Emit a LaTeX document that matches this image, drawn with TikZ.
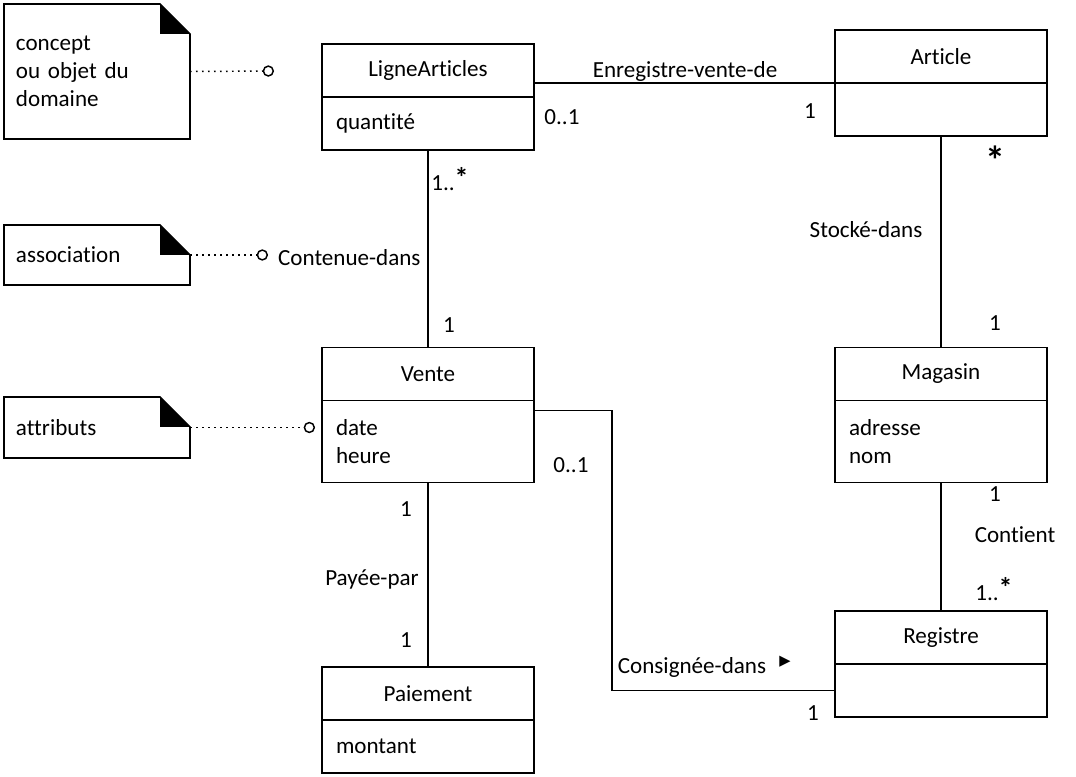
\documentclass[tikz,border=0pt]{standalone}
\usepackage{fontspec}
\setmainfont{Carlito}[Ligatures=NoCommon]
\newfontfamily\symfont{DejaVu Sans}
\usetikzlibrary{arrows.meta, positioning}

\begin{document}
\begin{tikzpicture}[
    x=0.75pt, y=-0.75pt,
    font=\fontsize{17.3pt}{21pt}\selectfont,
    every node/.style={outer sep=0pt},
    cls/.style={draw, line width=1.2pt, minimum width=159pt, minimum height=39.75pt, inner sep=0pt},
    attr/.style={cls, text width=138pt, inner xsep=10.5pt, align=left},
    note/.style={minimum width=139.5pt, text width=121.5pt, inner xsep=9pt, align=left},
    link/.style={line width=1.2pt},
    notelink/.style={line width=1.1pt, dash pattern=on 1.3pt off 3.2pt, -{Circle[open, length=8.5pt, width=8.5pt, line width=1.1pt, sep=0pt]}},
    mult/.style={inner sep=0pt}
]
\useasboundingbox (0,0) rectangle (1076,777);

% Classes
\node[cls] (ligne) at (428,70.5) {LigneArticles};
\node[attr, minimum height=39.75pt, below=0pt of ligne] (ligneattr) {quantité};
\node[cls] (article) at (941,56.5) {Article};
\node[attr, minimum height=39.75pt, below=0pt of article] (articleattr) {};
\node[cls] (vente) at (428,374) {Vente};
\node[attr, minimum height=61.5pt, below=0pt of vente] (venteattr) {date\\heure};
\node[cls] (magasin) at (941,374) {Magasin};
\node[attr, minimum height=61.5pt, below=0pt of magasin] (magasinattr) {adresse\\nom};
\node[cls] (paiement) at (428,693.5) {Paiement};
\node[attr, minimum height=39.75pt, below=0pt of paiement] (paiementattr) {montant};
\node[cls] (registre) at (941,637.5) {Registre};
\node[attr, minimum height=39.75pt, below=0pt of registre] (registreattr) {};

% Notes
\node[note, minimum height=101.25pt] (noteconcept) at (97,71.5) {concept\\ou objet du\\domaine};
\node[note, minimum height=45pt] (noteassoc) at (97,255) {association};
\node[note, minimum height=45.75pt] (noteattr) at (97,427.5) {attributs};
\foreach \n in {noteconcept,noteassoc,noteattr}{
  \draw[line width=1.2pt] (\n.south west) -- (\n.north west) -- ([xshift=-22.5pt]\n.north east)
    -- ([yshift=-22.5pt]\n.north east) -- (\n.south east) -- cycle;
  \fill ([xshift=-22.5pt]\n.north east) -- ([yshift=-22.5pt]\n.north east)
    -- ([xshift=-22.5pt,yshift=-22.5pt]\n.north east) -- cycle;
}
\coordinate (pinconcept) at (274,71);
\coordinate (pinassoc) at (268,255);
\coordinate (pinattr) at (315,427.5);
\draw[notelink] (noteconcept.east) -- (pinconcept);
\draw[notelink] (noteassoc.east) -- (pinassoc);
\draw[notelink] (noteattr.east) -- (pinattr);

% Associations
\draw[link] (article.south west -| ligne.east) -- (article.south west);
\draw[link] (ligneattr.south) -- (vente.north);
\draw[link] (articleattr.south) -- (magasin.north);
\draw[link] (venteattr.south) -- (paiement.north);
\draw[link] (magasinattr.south) -- (registre.north);
\draw[link] ([yshift=-7.5pt]venteattr.north east) -- ++(58.5pt,0) |- (registreattr.west);

% Labels
\node (lblenreg) at (685,71) {Enregistre-vente-de};
\node[mult] (mligne) at (562,117) {0..1};
\node[mult] (marticle) at (810,111) {1};
\node[mult] (mcontenue) at (450,179) {1..\raisebox{2pt}{\fontsize{21pt}{21pt}\selectfont\textbf{*}}};
\node[anchor=east] (lblcontenue) at (425,258) {Contenue-dans};
\node[mult] (mvente) at (449,325) {1};
\node[mult] (mstock) at (995,160) {\fontsize{30pt}{30pt}\selectfont\textbf{*}};
\node (lblstock) at (866,230) {Stocké-dans};
\node[mult] (mmagasin) at (995,323) {1};
\node[mult] (mmag2) at (995,494) {1};
\node (lblcontient) at (1015,535) {Contient};
\node[mult] (mregistre) at (994,589) {1..\raisebox{2pt}{\fontsize{21pt}{21pt}\selectfont\textbf{*}}};
\node[mult] (mvente2) at (406,509) {1};
\node (lblpayee) at (372,579) {Payée-par};
\node[mult] (mpaiement) at (406,640) {1};
\node[mult] (mvente3) at (571,465) {0..1};
\node (lblconsig) at (692,667) {Consignée-dans};
\node[mult] (dirconsig) at (785,662) {\symfont\fontsize{11pt}{11pt}\selectfont ▶};
\node[mult] (mregistre2) at (813,713) {1};

\end{tikzpicture}
\end{document}
